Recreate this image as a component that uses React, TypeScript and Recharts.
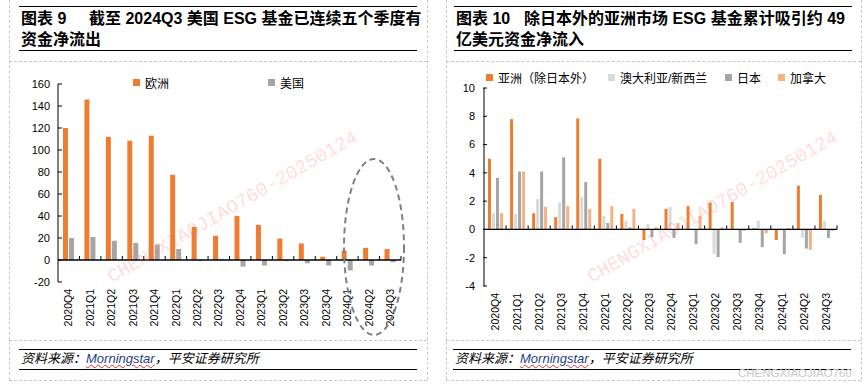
import React from "react";
import { BarChart, Bar, XAxis, YAxis, ReferenceLine } from "recharts";

const quarters = [
  "2020Q4", "2021Q1", "2021Q2", "2021Q3", "2021Q4", "2022Q1", "2022Q2", "2022Q3",
  "2022Q4", "2023Q1", "2023Q2", "2023Q3", "2023Q4", "2024Q1", "2024Q2", "2024Q3",
];

// chart 9: net flows, Europe vs US ESG funds
const europeFlows = [120, 146, 112, 108.5, 113, 77.5, 30, 22, 40, 32, 19.5, 15, 3, 8.5, 11, 10];
const usFlows = [20, 21, 17.5, 15.5, 14, 10, -1, 1, -6, -5, -1, -3, -5, -9.5, -5, -2];
const chart9Ticks = [-20, 0, 20, 40, 60, 80, 100, 120, 140, 160];

// chart 10: Asia-Pacific + Canada
const asiaExJapan = [5.0, 7.8, 1.15, 0.87, 7.85, 5.0, 1.1, -0.75, 1.45, 1.65, 1.9, 1.95, 0.1, -0.75, 3.1, 2.45];
const ausNz = [1.15, 1.1, 2.15, 1.9, 2.3, 0.95, 0.6, 0.4, 1.6, 0, -1.75, 0, 0.6, 0, -0.6, 0.6];
const japan = [3.65, 4.1, 4.1, 5.1, 3.35, 0.45, 0.15, -0.55, -0.6, -1.05, -1.95, -0.95, -1.25, -1.75, -1.35, -0.6];
const canada = [1.15, 4.1, 1.6, 1.65, 1.45, 1.65, 1.45, 0.15, 0.45, 0.95, 0.15, -0.1, -0.25, 0.1, -1.45, -0.1];
const chart10Ticks = [-4, -2, 0, 2, 4, 6, 8, 10];

const chart9Data = quarters.map((q, i) => ({ q, europe: europeFlows[i], us: usFlows[i] }));
const chart10Data = quarters.map((q, i) => ({
  q,
  asia: asiaExJapan[i],
  aus: ausNz[i],
  japan: japan[i],
  canada: canada[i],
}));

const ORANGE = "#ED7D31";
const GRAY = "#A5A5A5";
const LIGHT_GRAY = "#D9D9D9";
const PEACH = "#F4B183";

const FONT = '"Liberation Sans", Arial, "Noto Sans CJK SC", sans-serif';
const DASH = "1px dashed #c8c8c8";

function YTick(props: any) {
  const { x, y, payload } = props;
  return (
    <g>
      <line x1={x + 8} x2={x + 12} y1={y} y2={y} stroke="#000" />
      <text x={x} y={y} dy="0.35em" textAnchor="end" fontSize={11} fill="#000" fontFamily={FONT}>
        {payload.value}
      </text>
    </g>
  );
}

function QuarterTick(props: any) {
  const { x, y, payload } = props;
  return (
    <text
      transform={`translate(${x},${y}) rotate(-90)`}
      dy="0.35em"
      textAnchor="end"
      fontSize={10.5}
      fill="#000"
      fontFamily={FONT}
    >
      {payload.value}
    </text>
  );
}

// zero line with small upward ticks between categories
function zeroAxis(count: number) {
  return (props: any) => {
    const { x1, x2, y1 } = props;
    const step = (x2 - x1) / count;
    return (
      <g>
        <line x1={x1} x2={x2} y1={y1} y2={y1} stroke="#000" strokeWidth={1.3} />
        {Array.from({ length: count }, (_, i) => (
          <line
            key={i}
            x1={x1 + step * (i + 1)}
            x2={x1 + step * (i + 1)}
            y1={y1}
            y2={y1 - 4}
            stroke="#000"
          />
        ))}
      </g>
    );
  };
}

function LegendItem({ color, label, left, top }: { color: string; label: string; left: number; top: number }) {
  return (
    <div style={{ position: "absolute", left, top, display: "flex", alignItems: "center", fontSize: 12, fontFamily: FONT, whiteSpace: "nowrap" }}>
      <span style={{ display: "inline-block", width: 7, height: 7, background: color, marginRight: 5 }} />
      <span>{label}</span>
    </div>
  );
}

function Title({ left, num, line1, line2, textLeft }: { left: number; num: string; line1: string; line2: string; textLeft: number }) {
  const base: React.CSSProperties = {
    position: "absolute",
    fontFamily: FONT,
    fontWeight: "bold",
    fontSize: 16,
    lineHeight: "21px",
    whiteSpace: "nowrap",
    color: "#000",
  };
  return (
    <>
      <div style={{ position: "absolute", left: left - 2, width: 398, top: 6, borderTop: "1.5px solid #000" }} />
      <div style={{ ...base, left, top: 8 }}>{num}</div>
      <div style={{ ...base, left: textLeft, top: 8 }}>{line1}</div>
      <div style={{ ...base, left, top: 29 }}>{line2}</div>
      <div style={{ position: "absolute", left: left - 2, width: 398, top: 50, borderTop: "1px solid #000" }} />
    </>
  );
}

function Source({ left }: { left: number }) {
  return (
    <>
      <div style={{ position: "absolute", left: left - 2, width: 398, top: 349, borderTop: "1px solid #000" }} />
      <div style={{ position: "absolute", left, top: 350, fontSize: 13, lineHeight: "18px", fontStyle: "italic", fontFamily: FONT, whiteSpace: "nowrap" }}>
        资料来源：
        <span style={{ color: "#1F3F7F", textDecoration: "underline wavy #e03030", textDecorationThickness: "1px" }}>Morningstar</span>
        ，平安证券研究所
      </div>
      <div style={{ position: "absolute", left: left - 2, width: 398, top: 369, borderTop: "1px solid #000" }} />
    </>
  );
}

function Frame({ left, right }: { left: number; right: number }) {
  return (
    <>
      <div style={{ position: "absolute", left, top: 0, height: 380, borderLeft: DASH }} />
      <div style={{ position: "absolute", left: right, top: 0, height: 380, borderLeft: DASH }} />
      <div style={{ position: "absolute", left, width: right - left, top: 61, borderTop: DASH }} />
      <div style={{ position: "absolute", left, width: right - left, top: 340, borderTop: DASH }} />
      <div style={{ position: "absolute", left, width: right - left, top: 380, borderTop: DASH }} />
    </>
  );
}

export default function App() {
  return (
    <div style={{ position: "absolute", left: 0, top: 0, width: 868, height: 390, background: "#fff", overflow: "hidden" }}>
      <Frame left={9} right={427} />
      <Frame left={446} right={861} />

      <Title left={21} num="图表 9" textLeft={89} line1="截至 2024Q3 美国 ESG 基金已连续五个季度有" line2="资金净流出" />
      <Title left={456} num="图表 10" textLeft={524} line1="除日本外的亚洲市场 ESG 基金累计吸引约 49" line2="亿美元资金净流入" />

      {/* chart 9 */}
      <div style={{ position: "absolute", left: 0, top: 60 }}>
        <BarChart width={434} height={280} data={chart9Data} margin={{ top: 24, right: 33, bottom: 0, left: 0 }} barGap={1}>
          <XAxis dataKey="q" interval={0} height={58} axisLine={false} tickLine={false} tickSize={0} tickMargin={7} tick={<QuarterTick />} />
          <YAxis
            width={58}
            domain={[-20, 160]}
            ticks={chart9Ticks}
            interval={0}
            axisLine={{ stroke: "#000" }}
            tickLine={false}
            tickSize={4}
            tickMargin={4}
            tick={<YTick />}
          />
          <Bar dataKey="europe" name="欧洲" fill={ORANGE} barSize={5} isAnimationActive={false} />
          <Bar dataKey="us" name="美国" fill={GRAY} barSize={5} isAnimationActive={false} />
          <ReferenceLine y={0} shape={zeroAxis(quarters.length)} />
        </BarChart>
      </div>
      <LegendItem color={ORANGE} label="欧洲" left={133} top={74} />
      <LegendItem color={GRAY} label="美国" left={268} top={74} />

      {/* chart 10 */}
      <div style={{ position: "absolute", left: 434, top: 60 }}>
        <BarChart width={434} height={280} data={chart10Data} margin={{ top: 28, right: 31, bottom: 0, left: 0 }} barGap={1}>
          <XAxis dataKey="q" interval={0} height={54} axisLine={false} tickLine={false} tickSize={0} tickMargin={7} tick={<QuarterTick />} />
          <YAxis
            width={50}
            domain={[-4, 10]}
            ticks={chart10Ticks}
            interval={0}
            axisLine={{ stroke: "#000" }}
            tickLine={false}
            tickSize={4}
            tickMargin={5}
            tick={<YTick />}
          />
          <Bar dataKey="asia" name="亚洲（除日本外）" fill={ORANGE} barSize={3} isAnimationActive={false} />
          <Bar dataKey="aus" name="澳大利亚/新西兰" fill={LIGHT_GRAY} barSize={3} isAnimationActive={false} />
          <Bar dataKey="japan" name="日本" fill={GRAY} barSize={3} isAnimationActive={false} />
          <Bar dataKey="canada" name="加拿大" fill={PEACH} barSize={3} isAnimationActive={false} />
          <ReferenceLine y={0} shape={zeroAxis(quarters.length)} />
        </BarChart>
      </div>
      <LegendItem color={ORANGE} label="亚洲（除日本外）" left={486} top={69} />
      <LegendItem color={LIGHT_GRAY} label="澳大利亚/新西兰" left={608} top={69} />
      <LegendItem color={GRAY} label="日本" left={725} top={69} />
      <LegendItem color={PEACH} label="加拿大" left={778} top={69} />

      <Source left={21} />
      <Source left={455} />

      {/* annotation + watermarks */}
      <svg width={868} height={390} style={{ position: "absolute", left: 0, top: 0, pointerEvents: "none" }}>
        <ellipse cx={374} cy={247} rx={30} ry={88} fill="none" stroke="#808080" strokeWidth={2} strokeDasharray="6 4" />
        <text x={112} y={283} transform="rotate(-30 112 283)" fontSize={19} fontFamily='"Liberation Mono", monospace' fill="#ff6b6b" fillOpacity={0.25}>
          CHENGXIAOJIAO760-20250124
        </text>
        <text x={592} y={283} transform="rotate(-30 592 283)" fontSize={19} fontFamily='"Liberation Mono", monospace' fill="#ff6b6b" fillOpacity={0.25}>
          CHENGXIAOJIAO760-20250124
        </text>
        <text x={738} y={377} fontSize={11.5} fontFamily={FONT} fill="#c8c8c8">
          CHENGXIAOJIAO760
        </text>
      </svg>
    </div>
  );
}
